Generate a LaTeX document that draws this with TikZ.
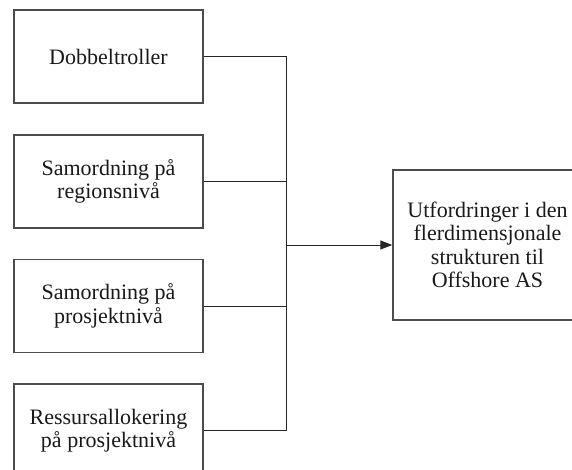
\documentclass[tikz,border=0pt]{standalone}
\usepackage{fontspec}
\setmainfont{Liberation Serif}
\usetikzlibrary{arrows.meta}
\begin{document}
\begin{tikzpicture}[x=1pt,y=-1pt,
  box/.style={draw=black!70,line width=1.4pt,minimum width=189pt,minimum height=93pt,
    inner sep=0pt,align=center,text=black!90,
    font=\fontsize{22}{23.5}\selectfont},
  link/.style={draw=black!85,line width=1pt}]
\useasboundingbox (0,0) rectangle (572,470);
\node[box] (b1) at (108.5,56.5) {Dobbeltroller};
\node[box] (b2) at (108.5,181.5) {Samordning på\\regionsnivå};
\node[box] (b3) at (108.5,306) {Samordning på\\prosjektnivå};
\node[box] (b4) at (108.5,430.5) {Ressursallokering\\på prosjektnivå};
\node[box,minimum height=150pt] (r) at (487.5,245) {Utfordringer i den\\flerdimensjonale\\strukturen til\\Offshore AS};
\coordinate (j) at (286,245);
\draw[link] (b1.east) -- (b1.east -| j);
\draw[link] (b2.east) -- (b2.east -| j);
\draw[link] (b3.east) -- (b3.east -| j);
\draw[link] (b4.east) -- (b4.east -| j);
\draw[link] (b1.east -| j) -- (b4.east -| j);
\draw[link,-{Triangle[length=12pt,width=9pt]}] (j) -- (r.west);
\end{tikzpicture}
\end{document}
